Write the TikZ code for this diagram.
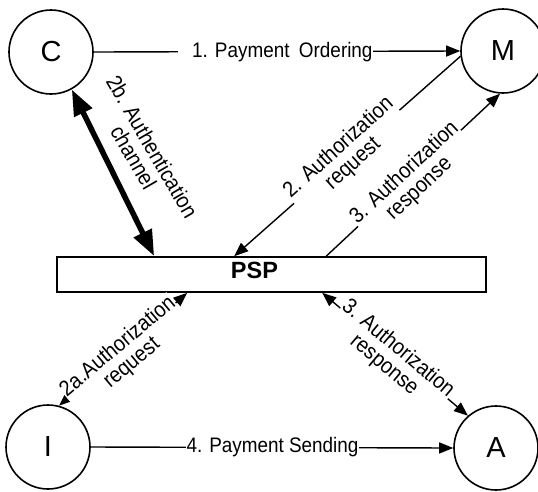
\documentclass[tikz,border=0pt]{standalone}
\usepackage{fontspec}
\setmainfont{Liberation Sans}
\newfontfamily\lblfont[FakeStretch=0.9]{Liberation Sans}
\usetikzlibrary{arrows.meta,calc}
\begin{document}
\begin{tikzpicture}[x=1pt,y=-1pt,
  party/.style={draw, circle, line width=1.6pt, minimum size=84pt, inner sep=0pt, font=\fontsize{29}{31}\selectfont},
  flow/.style={line width=1.4pt, -{Triangle[length=14pt,width=11pt]}},
  bflow/.style={line width=1.4pt, {Triangle[length=14pt,width=11pt]}-{Triangle[length=14pt,width=11pt]}},
  heavyflow/.style={line width=5.5pt, {Triangle[length=26pt,width=19pt]}-{Triangle[length=26pt,width=19pt]}},
  lbl/.style={font=\lblfont\fontsize{21}{21}\selectfont, align=center, inner sep=0.5pt},
  rlbl/.style={lbl, font=\lblfont\fontsize{22}{21.5}\selectfont},
  wlbl/.style={lbl, fill=white},
  wrlbl/.style={rlbl, fill=white}]
\useasboundingbox (0,0) rectangle (538,491);
% parties
\node[party] (C) at (51,52) {C};
\node[party] (M) at (503,51) {M};
\node[party] (I) at (48,447) {I};
\node[party] (A) at (496,448) {A};
% PSP
\node[draw, line width=1.6pt, minimum width=429pt, minimum height=35pt, inner sep=0pt,
      font=\fontsize{23.5}{25}\selectfont\bfseries] (P) at (271.5,274.5)
      {\raisebox{4pt}[\height][\depth]{PSP}\hspace*{34pt}};
% anchor points on PSP
\coordinate (p2b) at ($(P.north west)+(98,0)$);
\coordinate (p2)  at ($(P.north west)+(178,0)$);
\coordinate (p3)  at ($(P.north west)+(270,0)$);
\coordinate (p2a) at ($(P.south west)+(131,0)$);
\coordinate (p3b) at ($(P.south west)+(266,0)$);
% connectors
\draw[flow] (C.east) -- (M.west);
\draw[flow] (I.east) -- (A.west);
\draw[flow] (M.187) -- (p2);
\draw[flow] (p3) -- (M.-94);
\draw[heavyflow] (C.-61) -- (p2b);
\draw[bflow] (p2a) -- (I.75);
\draw[bflow] (p3b) -- (A.131);
% labels
\node[wlbl, inner xsep=0pt, anchor=west] (l1) at (178,52) {\hspace*{14pt}1. Payment\hspace{0.45em}Ordering};
\node[wlbl] (l4) at (272.5,447) {4. Payment Sending};
\node[wrlbl, rotate=42] (l2) at (346,156) {2. Authorization\\request};
\node[wrlbl, rotate=43] (l3) at (412,181) {3. Authorization\\response};
\node[rlbl, rotate=-60] (l2b) at (143,152) {2b. Authentication\\channel};
\node[wrlbl, rotate=40] (l2a) at (125,355) {2a.Authorization\\request};
\node[wrlbl, rotate=-40] (l3b) at (391,357) {3. Authorization\\response};
\end{tikzpicture}
\end{document}
